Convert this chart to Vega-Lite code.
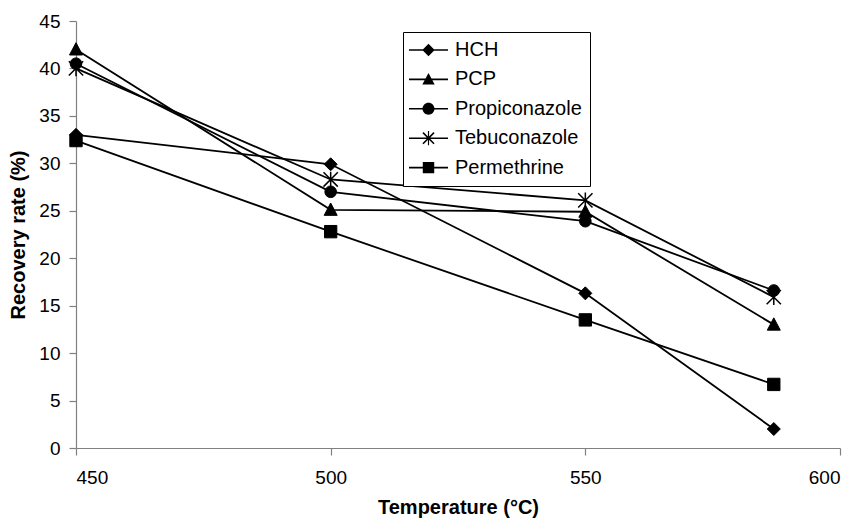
{
  "$schema": "https://vega.github.io/schema/vega-lite/v6.json",
  "width": 764,
  "height": 427,
  "autosize": {"type": "none"},
  "padding": {"left": 76, "top": 21, "right": 18, "bottom": 74},
  "background": "white",
  "config": {
    "view": {"stroke": null},
    "font": "Liberation Sans",
    "axis": {
      "grid": false,
      "domainColor": "#808080",
      "domainWidth": 1.2,
      "tickColor": "#808080",
      "tickWidth": 1.2,
      "tickSize": 7,
      "labelFont": "Liberation Sans",
      "labelFontSize": 19,
      "labelColor": "black",
      "titleFont": "Liberation Sans",
      "titleFontSize": 20,
      "titleFontWeight": "bold",
      "titleColor": "black"
    }
  },
  "data": {
    "values": [
      {"compound": "HCH", "temp": 450, "rate": 33.0},
      {"compound": "HCH", "temp": 500, "rate": 29.9},
      {"compound": "HCH", "temp": 550, "rate": 16.3},
      {"compound": "HCH", "temp": 587, "rate": 2.0},
      {"compound": "PCP", "temp": 450, "rate": 42.0},
      {"compound": "PCP", "temp": 500, "rate": 25.1},
      {"compound": "PCP", "temp": 550, "rate": 24.9},
      {"compound": "PCP", "temp": 587, "rate": 13.0},
      {"compound": "Propiconazole", "temp": 450, "rate": 40.5},
      {"compound": "Propiconazole", "temp": 500, "rate": 27.0},
      {"compound": "Propiconazole", "temp": 550, "rate": 23.9},
      {"compound": "Propiconazole", "temp": 587, "rate": 16.6},
      {"compound": "Tebuconazole", "temp": 450, "rate": 40.0},
      {"compound": "Tebuconazole", "temp": 500, "rate": 28.3},
      {"compound": "Tebuconazole", "temp": 550, "rate": 26.1},
      {"compound": "Tebuconazole", "temp": 587, "rate": 15.9},
      {"compound": "Permethrine", "temp": 450, "rate": 32.4},
      {"compound": "Permethrine", "temp": 500, "rate": 22.8},
      {"compound": "Permethrine", "temp": 550, "rate": 13.5},
      {"compound": "Permethrine", "temp": 587, "rate": 6.7}
    ]
  },
  "encoding": {
    "x": {
      "field": "temp",
      "type": "quantitative",
      "scale": {"domain": [450, 600], "nice": false, "zero": false},
      "axis": {"values": [450, 500, 550, 600], "title": "Temperature (°C)", "labelPadding": 13, "titlePadding": 10}
    },
    "y": {
      "field": "rate",
      "type": "quantitative",
      "scale": {"domain": [0, 45], "nice": false},
      "axis": {"values": [0, 5, 10, 15, 20, 25, 30, 35, 40, 45], "title": "Recovery rate (%)", "labelPadding": 9, "titlePadding": 10}
    }
  },
  "layer": [
    {
      "mark": {"type": "line", "color": "black", "strokeWidth": 1.8},
      "encoding": {"detail": {"field": "compound", "type": "nominal"}}
    },
    {
      "transform": [{"filter": {"field": "compound", "equal": "HCH"}}],
      "mark": {"type": "point", "shape": "M0,-1L1,0L0,1L-1,0Z", "filled": true, "fill": "black", "stroke": "black", "strokeWidth": 1, "opacity": 1, "size": 169}
    },
    {
      "transform": [{"filter": {"field": "compound", "equal": "PCP"}}],
      "mark": {"type": "point", "shape": "M0,-1.05L1,0.85L-1,0.85Z", "filled": true, "fill": "black", "stroke": "black", "strokeWidth": 1, "opacity": 1, "size": 169}
    },
    {
      "transform": [{"filter": {"field": "compound", "equal": "Propiconazole"}}],
      "mark": {"type": "point", "shape": "circle", "filled": true, "fill": "black", "stroke": "black", "strokeWidth": 1, "opacity": 1, "size": 135}
    },
    {
      "transform": [{"filter": {"field": "compound", "equal": "Tebuconazole"}}],
      "mark": {"type": "point", "shape": "M-1.1,-1.1L1.1,1.1M-1.1,1.1L1.1,-1.1M0,-1.2L0,1.2", "filled": false, "fill": "transparent", "stroke": "black", "strokeWidth": 1.5, "opacity": 1, "size": 169}
    },
    {
      "transform": [{"filter": {"field": "compound", "equal": "Permethrine"}}],
      "mark": {"type": "point", "shape": "M-0.95,-0.95H0.95V0.95H-0.95Z", "filled": true, "fill": "black", "stroke": "black", "strokeWidth": 1, "opacity": 1, "size": 169}
    },
    {
      "transform": [{"filter": {"field": "compound", "equal": "none"}}],
      "mark": {"type": "point", "filled": true, "color": "black", "opacity": 1, "size": 169},
      "encoding": {
        "shape": {
          "field": "compound",
          "type": "nominal",
          "scale": {
            "domain": ["HCH", "PCP", "Propiconazole", "Tebuconazole", "Permethrine"],
            "range": [
              "M-3,-0.12H3V0.12H-3ZM0,-0.95L0.95,0L0,0.95L-0.95,0Z",
              "M-3,-0.12H3V0.12H-3ZM0,-1L0.95,0.8L-0.95,0.8Z",
              "M-3,-0.12H3V0.12H-3ZM-0.92,0A0.92,0.92,0,1,1,0.92,0A0.92,0.92,0,1,1,-0.92,0Z",
              "M-3,-0.12H3V0.12H-3ZM-0.935,-0.765L-0.765,-0.935L0.935,0.765L0.765,0.935ZM-0.935,0.765L0.765,-0.935L0.935,-0.765L-0.765,0.935ZM-0.09,-1.1H0.09V1.1H-0.09Z",
              "M-3,-0.12H3V0.12H-3ZM-0.88,-0.88H0.88V0.88H-0.88Z"
            ]
          },
          "legend": {
            "orient": "none",
            "legendX": 327,
            "legendY": 11,
            "title": null,
            "strokeColor": "black",
            "fillColor": "white",
            "padding": 8,
            "rowPadding": 9.4,
            "symbolSize": 169,
            "symbolOffset": 7.5,
            "labelOffset": 16.5,
            "symbolOpacity": 1,
            "symbolStrokeWidth": 0,
            "symbolFillColor": "black",
            "labelFont": "Liberation Sans",
            "labelFontSize": 20,
            "labelColor": "black"
          }
        }
      }
    }
  ]
}
